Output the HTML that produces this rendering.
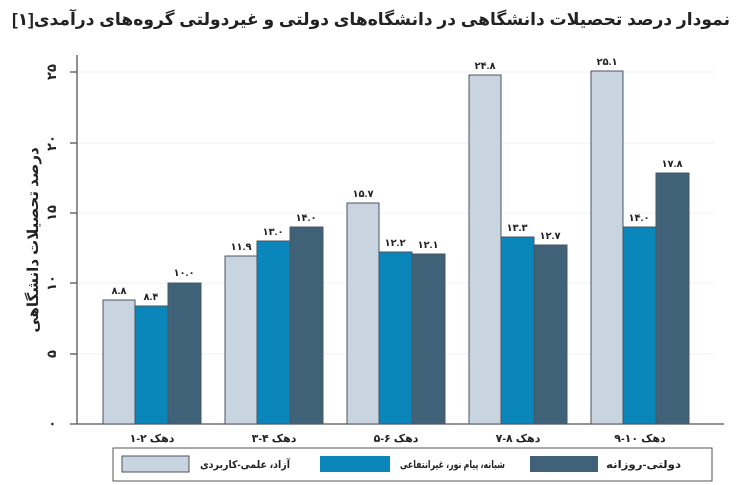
<!DOCTYPE html>
<html><head><meta charset="utf-8"><style>
body{margin:0;background:#fff;overflow:hidden;}
svg{display:block;font-family:"Liberation Sans","Noto Sans CJK SC","DejaVu Sans",sans-serif;}
</style></head><body>
<svg width="747" height="485" viewBox="0 0 747 485">
<text x="730" y="25" text-anchor="end" font-size="17" font-weight="bold" fill="#222" textLength="718" lengthAdjust="spacingAndGlyphs">نمودار درصد تحصیلات دانشگاهی در دانشگاه‌های دولتی و غیردولتی گروه‌های درآمدی[۱]</text>
<g stroke="#eef1f4" stroke-width="1">
<line x1="78" y1="354" x2="715" y2="354"/><line x1="78" y1="283" x2="715" y2="283"/><line x1="78" y1="213" x2="715" y2="213"/><line x1="78" y1="143" x2="715" y2="143"/><line x1="78" y1="72" x2="715" y2="72"/>
</g>
<g stroke="#555" stroke-width="1.3">
<line x1="77" y1="55" x2="77" y2="424"/><line x1="70" y1="424" x2="724" y2="424"/>
<line x1="70" y1="354" x2="77" y2="354"/><line x1="70" y1="283" x2="77" y2="283"/><line x1="70" y1="213" x2="77" y2="213"/><line x1="70" y1="143" x2="77" y2="143"/><line x1="70" y1="72" x2="77" y2="72"/>
</g>
<g font-size="13" font-weight="bold" fill="#222" text-anchor="middle">
<text transform="translate(56,424) rotate(-90)">۰</text>
<text transform="translate(56,354) rotate(-90)">۵</text>
<text transform="translate(56,283) rotate(-90)">۱۰</text>
<text transform="translate(56,213) rotate(-90)">۱۵</text>
<text transform="translate(56,143) rotate(-90)">۲۰</text>
<text transform="translate(56,72) rotate(-90)">۲۵</text>
<text transform="translate(38,240) rotate(-90)" font-size="15">درصد تحصیلات دانشگاهی</text>
</g>
<g stroke="#4a5560" stroke-width="1">
<rect x="103" y="300" width="32" height="124" fill="#c8d4e0"/><rect x="135" y="306" width="33" height="118" fill="#0a86bb"/><rect x="168" y="283" width="33" height="141" fill="#3f6279"/>
<rect x="225" y="256" width="32" height="168" fill="#c8d4e0"/><rect x="257" y="241" width="33" height="183" fill="#0a86bb"/><rect x="290" y="227" width="33" height="197" fill="#3f6279"/>
<rect x="347" y="203" width="32" height="221" fill="#c8d4e0"/><rect x="379" y="252" width="33" height="172" fill="#0a86bb"/><rect x="412" y="254" width="33" height="170" fill="#3f6279"/>
<rect x="469" y="75" width="32" height="349" fill="#c8d4e0"/><rect x="501" y="237" width="33" height="187" fill="#0a86bb"/><rect x="534" y="245" width="33" height="179" fill="#3f6279"/>
<rect x="591" y="71" width="32" height="353" fill="#c8d4e0"/><rect x="623" y="227" width="33" height="197" fill="#0a86bb"/><rect x="656" y="173" width="33" height="251" fill="#3f6279"/>
</g>
<g font-size="10" font-weight="bold" fill="#222" text-anchor="middle">
<text x="119" y="294">۸.۸</text><text x="151" y="300">۸.۴</text><text x="184" y="276">۱۰.۰</text>
<text x="241" y="250">۱۱.۹</text><text x="273" y="235">۱۳.۰</text><text x="306" y="221">۱۴.۰</text>
<text x="363" y="197">۱۵.۷</text><text x="395" y="246">۱۲.۲</text><text x="428" y="248">۱۲.۱</text>
<text x="485" y="69">۲۴.۸</text><text x="517" y="231">۱۳.۳</text><text x="550" y="239">۱۲.۷</text>
<text x="607" y="65">۲۵.۱</text><text x="639" y="221">۱۴.۰</text><text x="672" y="167">۱۷.۸</text>
</g>
<g font-size="11" font-weight="bold" fill="#222" text-anchor="middle">
<text x="152" y="442">دهک ۲-۱</text><text x="274" y="442">دهک ۴-۳</text><text x="396" y="442">دهک ۶-۵</text><text x="518" y="442">دهک ۸-۷</text><text x="640" y="442">دهک ۱۰-۹</text>
</g>
<rect x="113" y="448" width="599" height="33" fill="#fff" stroke="#555" stroke-width="1"/>
<rect x="122" y="456" width="67" height="16" fill="#c8d4e0" stroke="#4a5560"/>
<rect x="320" y="456" width="70" height="16" fill="#0a86bb"/>
<rect x="530" y="456" width="68" height="16" fill="#3f6279"/>
<g font-size="10.5" font-weight="bold" fill="#222">
<text x="200" y="468" textLength="90" lengthAdjust="spacingAndGlyphs">آزاد، علمی-کاربردی</text>
<text x="400" y="468" textLength="105" lengthAdjust="spacingAndGlyphs">شبانه، پیام نور، غیرانتفاعی</text>
<text x="606" y="468" textLength="75" lengthAdjust="spacingAndGlyphs">دولتی-روزانه</text>
</g>
</svg>
</body></html>
